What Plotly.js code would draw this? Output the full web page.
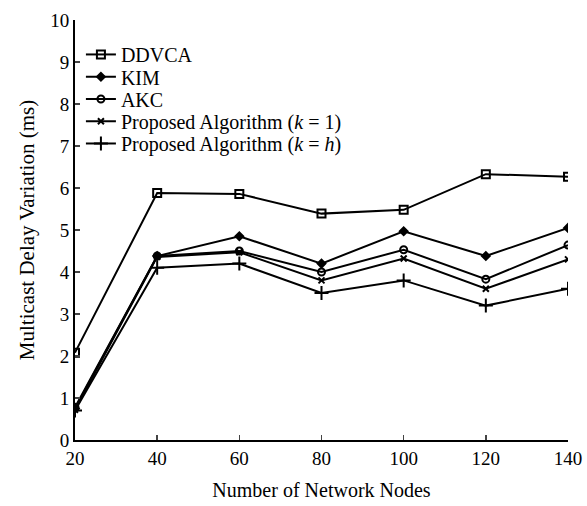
<!DOCTYPE html>
<html>
<head>
<meta charset="utf-8">
<script src="https://cdn.plot.ly/plotly-3.0.1.min.js"></script>
<style>html,body{margin:0;padding:0;background:#fff;}#chart{width:587px;height:506px;}</style>
</head>
<body>
<div id="chart"></div>
<script>
const nodes = [20, 40, 60, 80, 100, 120, 140];
const ddvca = [2.08, 5.88, 5.86, 5.39, 5.48, 6.33, 6.27];
const kim = [0.75, 4.38, 4.85, 4.20, 4.97, 4.38, 5.05];
const akc = [0.78, 4.38, 4.50, 4.00, 4.53, 3.83, 4.64];
const propK1 = [0.72, 4.36, 4.47, 3.80, 4.32, 3.60, 4.30];
const propKh = [0.70, 4.10, 4.20, 3.50, 3.80, 3.20, 3.60];
const names = ["DDVCA", "KIM", "AKC", "Proposed Algorithm (<i>k</i> = 1)", "Proposed Algorithm (<i>k</i> = <i>h</i>)"];
const series = [ddvca, kim, akc, propK1, propKh];
const symbols = ["square-open", "diamond", "circle-open", "x-thin-open", "cross-thin-open"];
const sizes = [8, 6, 7, 6, 10];
const legendIds = ["legend", "legend2", "legend3", "legend4", "legend5"];
const legendY = [0.918, 0.865, 0.812, 0.759, 0.706];

const traces = series.map((ys, i) => ({
  x: nodes, y: ys, name: names[i], type: "scatter", mode: "lines+markers",
  legend: legendIds[i],
  line: {color: "#000", width: 2},
  marker: {symbol: symbols[i], size: sizes[i], color: "#000", line: {color: "#000", width: 2}}
}));

const font = "Liberation Serif, Times New Roman, serif";
const layout = {
  width: 587, height: 506,
  margin: {l: 75, r: 19, t: 20, b: 66},
  paper_bgcolor: "#fff", plot_bgcolor: "#fff",
  font: {family: font, color: "#000", size: 19},
  showlegend: true,
  xaxis: {range: [20, 140], tickvals: nodes, ticks: "inside", ticklen: 5, tickwidth: 1.5,
          showline: true, linecolor: "#000", linewidth: 2, showgrid: false, zeroline: false,
          tickfont: {family: font, size: 19}, fixedrange: true,
          title: {text: "Number of Network Nodes", font: {family: font, size: 20}, standoff: 15}},
  yaxis: {range: [0, 10], dtick: 1, ticks: "inside", ticklen: 5, tickwidth: 1.5,
          showline: true, linecolor: "#000", linewidth: 2, showgrid: false, zeroline: false,
          tickfont: {family: font, size: 19}, fixedrange: true,
          title: {text: "Multicast Delay Variation (ms)", font: {family: font, size: 21}, standoff: 10}}
};
legendIds.forEach((id, i) => {
  layout[id] = {x: 0.012, y: legendY[i], xanchor: "left", yanchor: "middle",
                bgcolor: "rgba(0,0,0,0)", font: {family: font, size: 20, color: "#000"}};
});
Plotly.newPlot("chart", traces, layout, {staticPlot: true});
</script>
</body>
</html>
